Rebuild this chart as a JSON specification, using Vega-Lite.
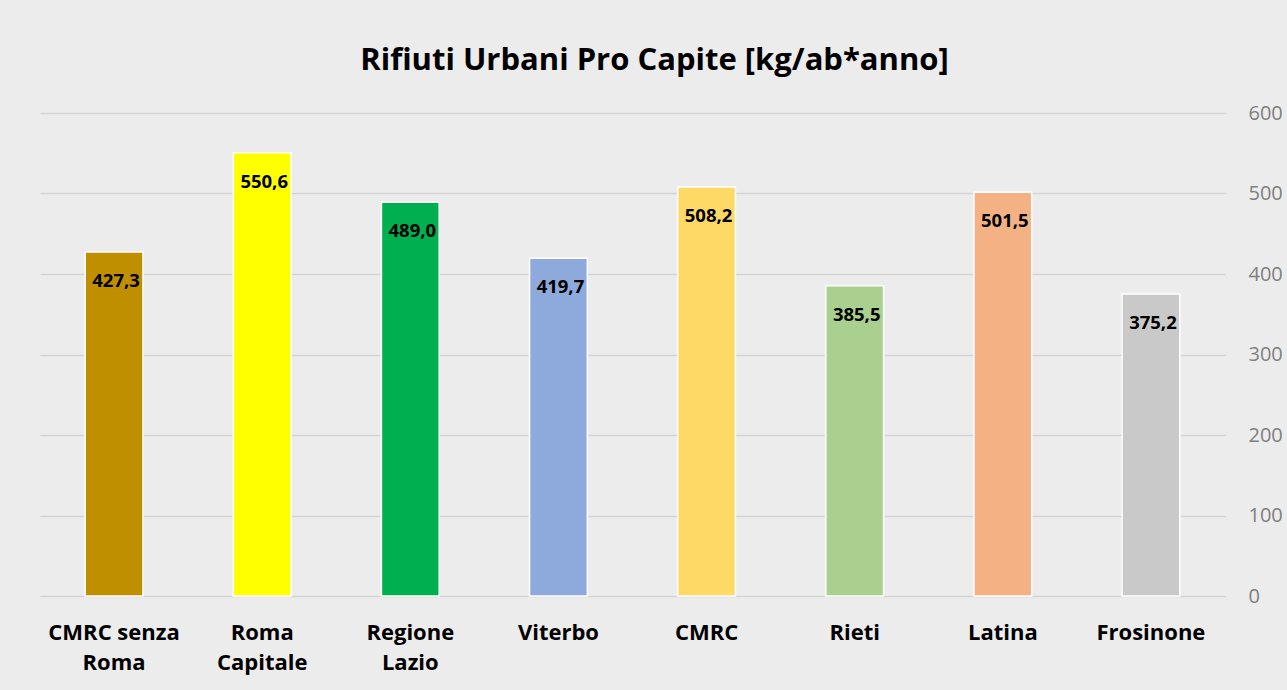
{
  "$schema": "https://vega.github.io/schema/vega-lite/v6.json",
  "width": 1185,
  "height": 483,
  "autosize": "none",
  "padding": {"left": 40, "top": 113, "right": 62, "bottom": 94},
  "background": "#ececec",
  "config": {
    "locale": {"number": {"decimal": ",", "thousands": ".", "grouping": [3], "currency": ["€", ""]}},
    "font": "Open Sans",
    "view": {"stroke": null}
  },
  "title": {
    "text": "Rifiuti Urbani Pro Capite [kg/ab*anno]",
    "fontSize": 31,
    "fontWeight": "bold",
    "color": "#000000",
    "font": "Open Sans",
    "anchor": "middle",
    "dx": 22,
    "baseline": "alphabetic",
    "offset": 45,
    "dy": 43
  },
  "data": {
    "values": [
      {"area": "CMRC senza Roma", "value": 427.3},
      {"area": "Roma Capitale", "value": 550.6},
      {"area": "Regione Lazio", "value": 489.0},
      {"area": "Viterbo", "value": 419.7},
      {"area": "CMRC", "value": 508.2},
      {"area": "Rieti", "value": 385.5},
      {"area": "Latina", "value": 501.5},
      {"area": "Frosinone", "value": 375.2}
    ]
  },
  "encoding": {
    "x": {
      "field": "area",
      "type": "nominal",
      "sort": null,
      "scale": {"paddingInner": 0.61, "paddingOuter": 0.305},
      "axis": {
        "title": null,
        "labelAngle": 0,
        "domain": false,
        "ticks": false,
        "labelPadding": 26,
        "labelFontSize": 22,
        "labelFontWeight": "bold",
        "labelColor": "#000000",
        "labelLineHeight": 30,
        "labelExpr": "datum.value == 'CMRC senza Roma' ? ['CMRC senza', 'Roma'] : split(datum.value, ' ')"
      }
    },
    "y": {
      "field": "value",
      "type": "quantitative",
      "scale": {"domain": [0, 600]},
      "axis": {
        "orient": "right",
        "title": null,
        "values": [0, 100, 200, 300, 400, 500, 600],
        "domain": false,
        "ticks": false,
        "grid": true,
        "gridColor": "#d4d4d4",
        "gridWidth": 1.5,
        "labelPadding": 23,
        "labelFontSize": 20,
        "labelColor": "#7f7f7f",
        "labelAlign": "left"
      }
    }
  },
  "layer": [
    {
      "mark": {"type": "bar", "stroke": "#ffffff", "strokeWidth": 1.5},
      "encoding": {
        "color": {
          "field": "area",
          "type": "nominal",
          "legend": null,
          "scale": {
            "domain": ["CMRC senza Roma", "Roma Capitale", "Regione Lazio", "Viterbo", "CMRC", "Rieti", "Latina", "Frosinone"],
            "range": ["#BF8F00", "#FFFF00", "#00B050", "#8EA9DB", "#FFD966", "#A9D08E", "#F4B183", "#C9C9C9"]
          }
        }
      }
    },
    {
      "mark": {"type": "text", "fontWeight": "bold", "fontSize": 18.5, "color": "#000000", "baseline": "middle", "dy": 29, "dx": 2},
      "encoding": {
        "text": {"field": "value", "type": "quantitative", "format": ".1f"}
      }
    }
  ]
}
